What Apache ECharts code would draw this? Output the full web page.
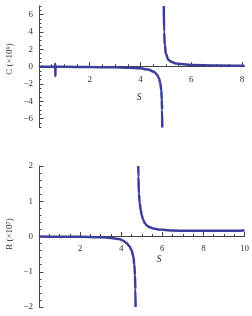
<!DOCTYPE html>
<html><head><meta charset="utf-8">
<script src="https://cdn.jsdelivr.net/npm/echarts@6/dist/echarts.min.js"></script>
<style>html,body{margin:0;padding:0;background:#fff}#c{width:252px;height:316px}</style>
</head><body><div id="c"></div>
<script>
// ---- Top panel data: C (x10^9) vs S ----
const topLeftS = [0, 0.63, 0.64, 0.645, 0.65, 1, 2, 3, 3.5, 4.0, 4.3, 4.53, 4.65, 4.73, 4.78, 4.82, 4.84, 4.85, 4.86];
const topLeftC = [0, 0, 0.35, -1.1, -0.02, -0.02, -0.04, -0.07, -0.11, -0.19, -0.33, -0.58, -0.9, -1.35, -1.9, -2.7, -3.8, -5, -7];
const topRightS = [4.92, 4.93, 4.96, 5.0, 5.1, 5.2, 5.4, 5.6, 6.0, 7.0, 8.1];
const topRightC = [7, 4, 2.5, 1.5, 0.8, 0.57, 0.38, 0.3, 0.2, 0.15, 0.12];
const topXLabels = [2, 4, 6, 8];
const topYLabels = [-6, -4, -2, 0, 2, 4, 6];

// ---- Bottom panel data: R (x10^7) vs S ----
const botLeftS = [0, 1, 2, 3, 3.5, 3.9, 4.1, 4.27, 4.4, 4.51, 4.59, 4.64, 4.67, 4.69, 4.70];
const botLeftR = [0, -0.005, -0.01, -0.02, -0.04, -0.07, -0.12, -0.19, -0.28, -0.4, -0.56, -0.8, -1.1, -1.5, -2.0];
const botRightS = [4.83, 4.84, 4.86, 4.9, 4.95, 5.0, 5.07, 5.15, 5.24, 5.4, 5.56, 5.8, 6.04, 6.5, 7.2, 8, 9, 10];
const botRightR = [2.0, 1.7, 1.22, 0.95, 0.75, 0.6, 0.47, 0.38, 0.31, 0.26, 0.23, 0.2, 0.19, 0.17, 0.16, 0.16, 0.16, 0.17];
const botXLabels = [2, 4, 6, 8, 10];
const botYLabels = [-2, -1, 0, 1, 2];

const zip = (a, b) => a.map((v, i) => [v, b[i]]);
const steps = (lo, hi, st) => { const r = []; for (let v = lo; v <= hi + 1e-9; v += st) r.push(+v.toFixed(4)); return r; };
const near = (v, list) => list.some(t => Math.abs(t - v) < 1e-6);
const fmtOnly = list => v => near(v, list) ? (v < 0 ? '\u2212' + Math.abs(v) : String(v)) : '';

const FONT = 'Liberation Serif';
const AX = '#444';
const LINE = '#3d3d9c';
const lbl = { fontFamily: FONT, fontSize: 9, color: '#333' };

const grids = [
  { left: 39, top: 6, width: 205.5, height: 121.4 },
  { left: 39, top: 166, width: 206, height: 141 }
];
const yRanges = [[-7, 7], [-2, 2]];
const xMax = [8.1, 10];
// lift the x axis from the grid bottom up to the y = 0 line
const zeroOffset = g => -grids[g].height * (0 - yRanges[g][0]) / (yRanges[g][1] - yRanges[g][0]);

function xAxis(grid, labels, minorStep) {
  return { type: 'value', gridIndex: grid, min: 0, max: xMax[grid], interval: 1, position: 'bottom',
    offset: zeroOffset(grid),
    axisLine: { onZero: false, lineStyle: { color: AX, width: 1 } },
    axisTick: { inside: true, length: 2.5, customValues: steps(0, xMax[grid], minorStep), lineStyle: { color: AX } },
    axisLabel: Object.assign({ margin: 8, formatter: fmtOnly(labels) }, lbl),
    splitLine: { show: false } };
}
function xMajor(grid, labels) {
  return { type: 'value', gridIndex: grid, min: 0, max: xMax[grid], interval: 1, position: 'bottom',
    offset: zeroOffset(grid),
    axisLine: { show: false, onZero: false },
    axisTick: { inside: true, length: 4.5, customValues: labels, lineStyle: { color: AX } },
    axisLabel: { show: false }, splitLine: { show: false } };
}
function yAxis(grid, labels, minorStep) {
  const [min, max] = yRanges[grid];
  return { type: 'value', gridIndex: grid, min: min, max: max, interval: 1, position: 'left',
    axisLine: { onZero: false, lineStyle: { color: AX, width: 1 } },
    axisTick: { inside: true, length: 2.5, customValues: steps(min, max, minorStep), lineStyle: { color: AX } },
    axisLabel: Object.assign({ margin: 6, formatter: fmtOnly(labels) }, lbl),
    splitLine: { show: false } };
}
function yMajor(grid, labels) {
  const [min, max] = yRanges[grid];
  return { type: 'value', gridIndex: grid, min: min, max: max, interval: 1, position: 'left',
    axisLine: { show: false, onZero: false },
    axisTick: { inside: true, length: 4.5, customValues: labels, lineStyle: { color: AX } },
    axisLabel: { show: false }, splitLine: { show: false } };
}
function ser(x, y, data) {
  return { type: 'line', xAxisIndex: x, yAxisIndex: y, data: data, showSymbol: false, symbol: 'none',
    smooth: 0.4, smoothMonotone: 'x', lineStyle: { color: LINE, width: 2.5 }, clip: true, z: 5 };
}

const chart = echarts.init(document.getElementById('c'), null, { renderer: 'canvas' });
chart.setOption({
  animation: false,
  backgroundColor: '#fff',
  grid: grids,
  xAxis: [xAxis(0, topXLabels, 0.5), xAxis(1, botXLabels, 0.5), xMajor(0, topXLabels), xMajor(1, botXLabels)],
  yAxis: [yAxis(0, topYLabels, 0.5), yAxis(1, botYLabels, 0.2), yMajor(0, topYLabels), yMajor(1, botYLabels)],
  series: [
    ser(0, 0, zip(topLeftS, topLeftC)),
    ser(0, 0, zip(topRightS, topRightC)),
    ser(1, 1, zip(botLeftS, botLeftR)),
    ser(1, 1, zip(botRightS, botRightR))
  ],
  graphic: [
    { type: 'text', x: 139, y: 97, style: { text: 'S', font: 'italic 10px "Liberation Serif"', fill: '#333', align: 'center', verticalAlign: 'middle' } },
    { type: 'text', x: 159, y: 259, style: { text: 'S', font: 'italic 10px "Liberation Serif"', fill: '#333', align: 'center', verticalAlign: 'middle' } },
    { type: 'text', x: 10, y: 59, rotation: Math.PI / 2, style: { text: 'C (\u00d710\u2079)', font: '9px "Liberation Serif"', fill: '#333', align: 'center', verticalAlign: 'middle' } },
    { type: 'text', x: 10, y: 234, rotation: Math.PI / 2, style: { text: 'R (\u00d710\u2077)', font: '9px "Liberation Serif"', fill: '#333', align: 'center', verticalAlign: 'middle' } }
  ]
});
</script></body></html>
